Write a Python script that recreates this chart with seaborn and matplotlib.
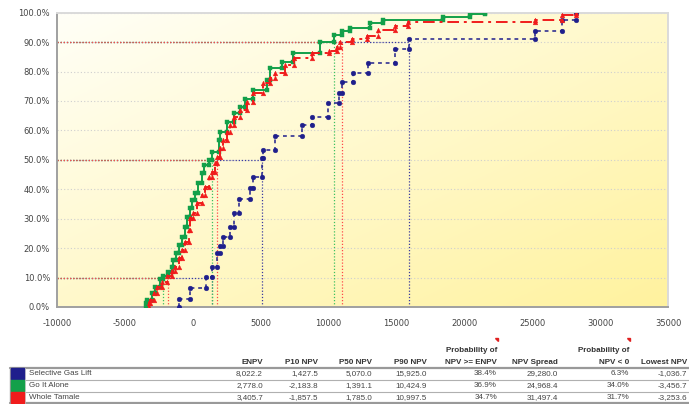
import numpy as np
import pandas as pd
import matplotlib
matplotlib.use("Agg")
import matplotlib.pyplot as plt
from matplotlib.ticker import PercentFormatter, MultipleLocator
import seaborn as sns

# cumulative NPV distributions (x = NPV, p = cumulative %)
gas_lift_x = [-1037, -230, 960, 1420, 1800, 2000, 2260, 2750, 3000, 3400, 4220, 4470,
              5070, 5200, 6060, 8030, 8760, 9990, 10800, 10970, 11830, 12930, 14890,
              15925, 25200, 27160, 28243]
gas_lift_p = [2.6, 6.6, 10.1, 13.6, 18.3, 20.8, 23.7, 27.3, 32.0, 36.6, 40.3, 44.1,
              50.5, 53.3, 58.0, 61.7, 64.4, 69.2, 72.6, 76.6, 79.4, 82.8, 87.5,
              91.2, 93.9, 97.5, 100.0]

alone_x = [-3457, -3380, -3010, -2770, -2450, -2180, -1790, -1540, -1420, -1220, -1050,
           -800, -560, -440, -240, -70, 180, 420, 670, 840, 1160, 1400, 1900, 2010, 2500,
           3000, 3490, 3860, 4470, 5450, 5700, 6600, 7400, 9375, 10420, 10970, 11580,
           13050, 14030, 18450, 20410, 21512]
alone_p = [1.2, 2.4, 4.6, 6.9, 9.5, 10.5, 12.0, 13.7, 16.0, 18.2, 21.0,
           23.9, 27.3, 30.7, 33.5, 36.4, 38.6, 42.0, 45.4, 48.2, 50.0, 52.8, 56.7, 59.6, 63.0,
           65.8, 68.0, 70.6, 73.7, 77.1, 81.1, 83.4, 86.2, 89.9, 92.4, 93.8, 94.9,
           96.4, 97.5, 98.4, 99.4, 100.0]

tamale_x = [-3254, -3135, -2890, -2640, -2280, -1910, -1540, -1300, -1050, -800, -560,
            -310, -190, 50, 300, 670, 910, 1160, 1400, 1650, 1785, 2010, 2260, 2500, 2750,
            3000, 3490, 3980, 4470, 5200, 5700, 6060, 6800, 7420, 8760, 10000, 10600,
            10850, 11700, 12800, 13660, 14890, 15870, 25200, 27160, 28244]
tamale_p = [1.2, 2.4, 4.6, 6.9, 8.6, 10.6, 12.3, 13.7, 16.5, 19.4, 22.2,
            26.2, 30.1, 31.8, 35.2, 38.0, 40.9, 44.3, 46.0, 48.8, 51.1, 53.9, 56.7, 59.6, 61.8,
            64.7, 66.9, 69.8, 72.6, 76.0, 77.7, 79.4, 82.2, 84.5, 86.2, 87.1, 88.4,
            90.1, 91.1, 92.2, 94.1, 95.6, 96.9, 97.5, 99.2, 100.0]

series_names = ["Selective Gas Lift", "Go It Alone", "Whole Tamale"]
enpv = ["8,022.2", "2,778.0", "3,405.7"]
p10 = [1427.5, -2183.8, -1857.5]
p50 = [5070.0, 1391.1, 1785.0]
p90 = [15925.0, 10424.9, 10997.5]
prob_ge_enpv = ["38.4%", "36.9%", "34.7%"]
npv_spread = ["29,280.0", "24,968.4", "31,497.4"]
prob_lt0 = ["6.3%", "34.0%", "31.7%"]
lowest_npv = ["-1,036.7", "-3,456.7", "-3,253.6"]

colors = ["#1f1f8c", "#13a04a", "#f01c1c"]
ref_colors = ["#3a3aa0", "#3cc060", "#ff4848"]
markers = ["o", "s", "^"]
styles = [(0, (2.5, 2.5)), "-", (0, (6, 2.5, 1.5, 2.5))]

W, H = 689, 404
fig = plt.figure(figsize=(W / 100, H / 100), dpi=100)
sns.set_style("white")
plt.rcParams["font.family"] = ["DejaVu Sans"]
plt.rcParams["axes.unicode_minus"] = False

ax = fig.add_axes([57 / W, 1 - 307 / H, (668 - 57) / W, (307 - 12.7) / H])

# gradient plot background: near white top-left to yellow bottom-right
gx, gy = np.meshgrid(np.linspace(0, 1, 200), np.linspace(0, 1, 200))
t = np.clip((gx + gy) / 2, 0, 1)
top = np.array([1.0, 1.0, 0.97])
bot = np.array([1.0, 0.95, 0.62])
grad = top[None, None, :] * (1 - t[..., None]) + bot[None, None, :] * t[..., None]
ax.imshow(grad, extent=[0, 1, 0, 1], transform=ax.transAxes, aspect="auto", zorder=0)

ax.set_xlim(-10000, 35000)
ax.set_ylim(0, 100)

# horizontal grid
for g in range(10, 101, 10):
    ax.axhline(g, color="#cfcfcf", lw=0.8, ls=(0, (1, 2)), zorder=1)

# percentile reference lines, blue first, red on top
for i in range(3):
    for lvl, val in zip([10, 50, 90], [p10[i], p50[i], p90[i]]):
        ax.plot([-10000, val], [lvl, lvl], color=ref_colors[i], lw=0.9, ls=(0, (1, 1.5)), zorder=2)
        ax.plot([val, val], [0, lvl], color=ref_colors[i], lw=0.9, ls=(0, (1, 1.5)), zorder=2)

# step curves with markers at every corner
all_x = [gas_lift_x, alone_x, tamale_x]
all_p = [gas_lift_p, alone_p, tamale_p]
for i in range(3):
    xs = np.array(all_x[i], dtype=float)
    ps = np.array(all_p[i], dtype=float)
    prev = np.concatenate([[0.0], ps[:-1]])
    vx = np.column_stack([xs, xs]).ravel()
    vy = np.column_stack([prev, ps]).ravel()
    df = pd.DataFrame({"x": vx, "y": vy})
    sns.lineplot(data=df, x="x", y="y", ax=ax, sort=False, estimator=None,
                 color=colors[i], lw=1.4 if i else 1.1, linestyle=styles[i],
                 marker=markers[i], markersize=3.4, markeredgewidth=0.3,
                 markeredgecolor=colors[i], zorder=4 + i)

ax.set_xlabel("")
ax.set_ylabel("")
ax.xaxis.set_major_locator(MultipleLocator(5000))
ax.yaxis.set_major_locator(MultipleLocator(10))
ax.yaxis.set_major_formatter(PercentFormatter(decimals=1))
ax.tick_params(axis="both", labelsize=6, colors="#555555", length=3, width=0.8,
               direction="out", pad=2)
ax.tick_params(axis="both", labelcolor="#444444")
ax.tick_params(axis="x", pad=6)
for s in ["left", "bottom"]:
    ax.spines[s].set_color("#a0a0a0")
    ax.spines[s].set_linewidth(1.4)
for s in ["top", "right"]:
    ax.spines[s].set_color("#dadada")
    ax.spines[s].set_linewidth(1.4)


# summary table under the chart (pixel positions)
def fx(px):
    return px / W


def fy(py):
    return 1 - py / H


hdr = dict(fontsize=5.8, fontweight="bold", color="#333333", family=["Liberation Sans"])
cell = dict(fontsize=5.8, color="#444444", family=["Liberation Sans"])

col_right = [263, 318, 372, 427, 497, 558, 629]
headers = ["ENPV", "P10 NPV", "P50 NPV", "P90 NPV", "NPV >= ENPV", "NPV Spread", "NPV < 0"]
for xr, h in zip(col_right, headers):
    fig.text(fx(xr), fy(362), h, ha="right", va="center", **hdr)
fig.text(fx(497), fy(350), "Probability of", ha="right", va="center", **hdr)
fig.text(fx(629), fy(350), "Probability of", ha="right", va="center", **hdr)
fig.text(fx(687), fy(362), "Lowest NPV", ha="right", va="center", **hdr)
for xr in [497, 629]:
    fig.patches.append(plt.Polygon([[fx(xr - 2), fy(338)], [fx(xr + 1), fy(338)], [fx(xr + 1), fy(341)]],
                                   closed=True, transform=fig.transFigure, color="#e02020"))

row_top = [367.5, 379.5, 391.5]
row_h = 12
for r in range(3):
    yc = row_top[r] + row_h / 2
    fig.patches.append(plt.Rectangle((fx(10.5), fy(row_top[r] + row_h - 0.5)), fx(13), (row_h - 1) / H,
                                     transform=fig.transFigure, color=colors[r], zorder=3))
    fig.text(fx(29), fy(yc), series_names[r], ha="left", va="center", **cell)
    vals = [enpv[r], f"{p10[r]:,.1f}", f"{p50[r]:,.1f}", f"{p90[r]:,.1f}",
            prob_ge_enpv[r], npv_spread[r], prob_lt0[r]]
    for xr, v in zip(col_right, vals):
        fig.text(fx(xr), fy(yc), v, ha="right", va="center", **cell)
    fig.text(fx(687), fy(yc), lowest_npv[r], ha="right", va="center", **cell)

# table borders
for py, lw, c in [(367.5, 1.6, "#999999"), (379.5, 0.8, "#b0b0b0"),
                  (391.5, 0.8, "#b0b0b0"), (403, 1.6, "#999999")]:
    fig.add_artist(plt.Line2D([fx(10), 1], [fy(py), fy(py)], transform=fig.transFigure,
                              color=c, lw=lw))
fig.add_artist(plt.Line2D([fx(10), fx(10)], [fy(367.5), fy(403)], transform=fig.transFigure,
                          color="#999999", lw=1.0))
fig.add_artist(plt.Line2D([fx(24.5), fx(24.5)], [fy(367.5), fy(403)], transform=fig.transFigure,
                          color="#cccccc", lw=0.6))

fig.savefig("out.png", dpi=100)
